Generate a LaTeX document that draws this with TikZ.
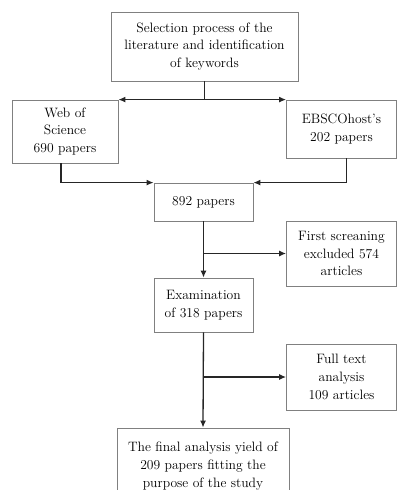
\documentclass[tikz,border=0pt]{standalone}
\usetikzlibrary{arrows.meta}
\begin{document}
\begin{tikzpicture}[x=1pt,y=-1pt,
  box/.style={draw=black!50,line width=0.8pt,rectangle,align=center,inner sep=0pt,font=\fontsize{13.6}{17.6}\selectfont},
  conn/.style={draw=black!85,line width=1.3pt,line join=miter},
  tip/.style={-{Latex[length=7pt,width=6pt]}},
  arr/.style={conn,tip}]
\path[use as bounding box] (0,0) rectangle (397,490);
\clip (0,0) rectangle (397,490);
\node[box,minimum width=187pt,minimum height=69pt] (top) at (204.5,46.5) {Selection process of the\\literature and identification\\of keywords};
\node[box,minimum width=106pt,minimum height=63pt] (wos) at (65,131.5) {Web of\\Science\\690 papers};
\node[box,minimum width=110pt,minimum height=58pt] (ebsco) at (341.5,129) {EBSCOhost's\\202 papers};
\node[box,minimum width=99pt,minimum height=38pt] (n892) at (203.5,202) {892 papers};
\node[box,minimum width=110pt,minimum height=65pt] (first) at (341.5,253.5) {First screaning\\excluded 574\\articles};
\node[box,minimum width=99pt,minimum height=54pt] (exam) at (203.5,305) {Examination\\of 318 papers};
\node[box,minimum width=110pt,minimum height=66pt] (full) at (341.5,377) {Full text\\analysis\\109 articles};
\node[box,minimum width=172pt,minimum height=76pt] (final) at (203,466) {The final analysis yield of\\209 papers fitting the\\purpose of the study};
\draw[conn] (top.south) -- (top.south |- wos.north);
\draw[conn,{Latex[length=7pt,width=6pt]}-{Latex[length=7pt,width=6pt]}] (wos.north east) -- (ebsco.north west);
\draw[arr] ([xshift=-4pt]wos.south) |- (n892.north west);
\draw[arr] ([xshift=5pt]ebsco.south) |- (n892.north east);
\draw[arr] (n892.south) -- (exam.north);
\draw[arr] (n892.south |- first.west) -- (first.west);
\draw[arr] (exam.south) -- (final.north);
\draw[arr] (exam.south |- full.west) -- (full.west);
\end{tikzpicture}
\end{document}
